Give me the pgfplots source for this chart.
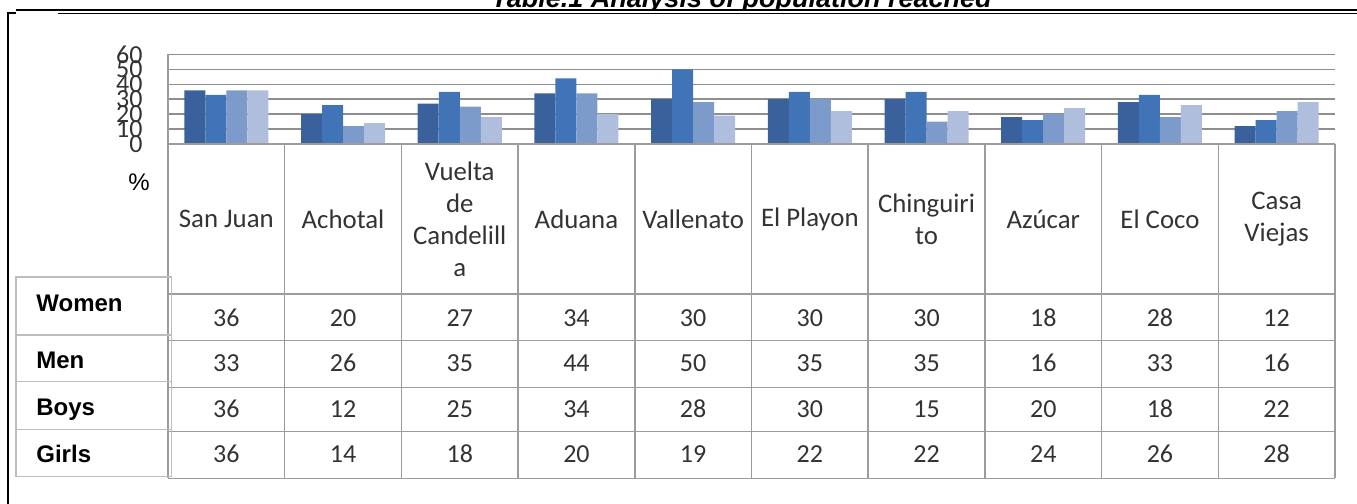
\documentclass[border=0pt]{standalone}
\usepackage{pgfplots}
\usepackage{pgfplotstable}
\pgfplotsset{compat=1.18}
\usepackage{fontspec}
\setmainfont{Carlito}
\newfontfamily\arial{Liberation Sans}
\definecolor{cWomen}{HTML}{3A619C}
\definecolor{cMen}{HTML}{4174B6}
\definecolor{cBoys}{HTML}{7C9BCB}
\definecolor{cGirls}{HTML}{AEBEDC}
\definecolor{gridc}{HTML}{8E8E8E}
\definecolor{tabc}{HTML}{9C9C9C}
\definecolor{boxc}{HTML}{BDBDBD}
\definecolor{txt}{HTML}{333333}

\pgfplotstableread{
x women men boys girls
0 36 33 36 36
1 20 26 12 14
2 27 35 25 18
3 34 44 34 20
4 30 50 28 19
5 30 35 30 22
6 30 35 15 22
7 18 16 20 24
8 28 33 18 26
9 12 16 22 28
}\datatable

\begin{document}
\begin{tikzpicture}
\begin{axis}[
  at={(84pt,-72pt)}, anchor=south west,
  scale only axis, width=583.5pt, height=44.75pt,
  xmin=-0.5, xmax=9.5, ymin=0, ymax=60,
  axis x line=none, axis y line=left,
  axis line style={-, draw=tabc, line width=0.75pt},
  ytick={0,10,...,60}, major tick length=0pt,
  ymajorgrids, grid style={gridc, line width=0.8pt},
  /pgf/number format/assume math mode=true,
  yticklabel style={font=\fontsize{13pt}{13pt}\selectfont, text=txt, inner sep=0pt, xshift=-12.5pt, anchor=east},
  ybar=0pt, bar width=10.5pt,
  clip=false,
]
\addplot[fill=cWomen, draw=none] table[x=x,y=women]{\datatable};
\addplot[fill=cMen, draw=none] table[x=x,y=men]{\datatable};
\addplot[fill=cBoys, draw=none] table[x=x,y=boys]{\datatable};
\addplot[fill=cGirls, draw=none] table[x=x,y=girls]{\datatable};
\end{axis}

\begin{scope}[x=0.5pt, y=-0.5pt]
  % title (cut at top)
  \begin{scope}
    \clip (0,-60) rectangle (1357,8);
    \node[anchor=base, inner sep=0pt, font=\arial\bfseries\itshape\fontsize{13.5pt}{16pt}\selectfont] at (741.5,7) {Table.1 Analysis of population reached};
  \end{scope}
  \draw[line width=1.1pt] (16,10.3) -- (1357,10.3);
  \draw[line width=0.6pt] (58,13.3) -- (1357,13.3);
  \draw[line width=0.75pt] (16,12.8) -- (8,12.8) -- (8,504);

  % table grid
  \foreach \y in {144,294,340.7,387.3,431.7,478.3}
    \draw[tabc, line width=0.75pt] (168,\y) -- (1335,\y);
  \foreach \k in {0,...,10}
    \draw[tabc, line width=0.75pt] ({168+116.7*\k},144) -- ({168+116.7*\k},478.3);

  % row label box
  \draw[boxc, line width=0.75pt] (16,277) rectangle (171.5,476.7);
  \foreach \y in {335,381.7,429.3}
    \draw[boxc, line width=0.75pt] (16,\y) -- (171.5,\y);

  % headers
  \foreach \k/\name in {0/San Juan, 1/Achotal, 2/{Vuelta\\de\\Candelill\\a}, 3/Aduana, 4/Vallenato, 5/El Playon, 6/{Chinguiri\\to}, 7/Azúcar, 8/El Coco, 9/{Casa\\Viejas}}
    \node[align=center, text=txt, font=\fontsize{13.4pt}{16pt}\selectfont, inner sep=0pt] at ({168+116.7*(\k+0.5)},219) {\name};

  % values
  \foreach \r in {0,...,9} {
    \pgfmathsetmacro\cx{168+116.7*(\r+0.5)}
    \pgfplotstablegetelem{\r}{women}\of\datatable
    \node[anchor=base, inner sep=0pt, text=txt, font=\fontsize{13pt}{16pt}\selectfont] at (\cx,326) {\pgfplotsretval};
    \pgfplotstablegetelem{\r}{men}\of\datatable
    \node[anchor=base, inner sep=0pt, text=txt, font=\fontsize{13pt}{16pt}\selectfont] at (\cx,371.7) {\pgfplotsretval};
    \pgfplotstablegetelem{\r}{boys}\of\datatable
    \node[anchor=base, inner sep=0pt, text=txt, font=\fontsize{13pt}{16pt}\selectfont] at (\cx,417.5) {\pgfplotsretval};
    \pgfplotstablegetelem{\r}{girls}\of\datatable
    \node[anchor=base, inner sep=0pt, text=txt, font=\fontsize{13pt}{16pt}\selectfont] at (\cx,462.7) {\pgfplotsretval};
  }

  % row labels
  \node[anchor=base west, inner sep=0pt, font=\arial\bfseries\fontsize{12pt}{14pt}\selectfont] at (36,311.7) {Women};
  \node[anchor=base west, inner sep=0pt, font=\arial\bfseries\fontsize{12pt}{14pt}\selectfont] at (36,368) {Men};
  \node[anchor=base west, inner sep=0pt, font=\arial\bfseries\fontsize{12pt}{14pt}\selectfont] at (36,415) {Boys};
  \node[anchor=base west, inner sep=0pt, font=\arial\bfseries\fontsize{12pt}{14pt}\selectfont] at (36,462.3) {Girls};

  \node[inner sep=0pt, font=\arial\fontsize{12pt}{14pt}\selectfont] at (139,182.5) {\%};

  \pgfresetboundingbox
  \path[use as bounding box] (0,0) rectangle (1357,504);
\end{scope}
\end{tikzpicture}
\end{document}
